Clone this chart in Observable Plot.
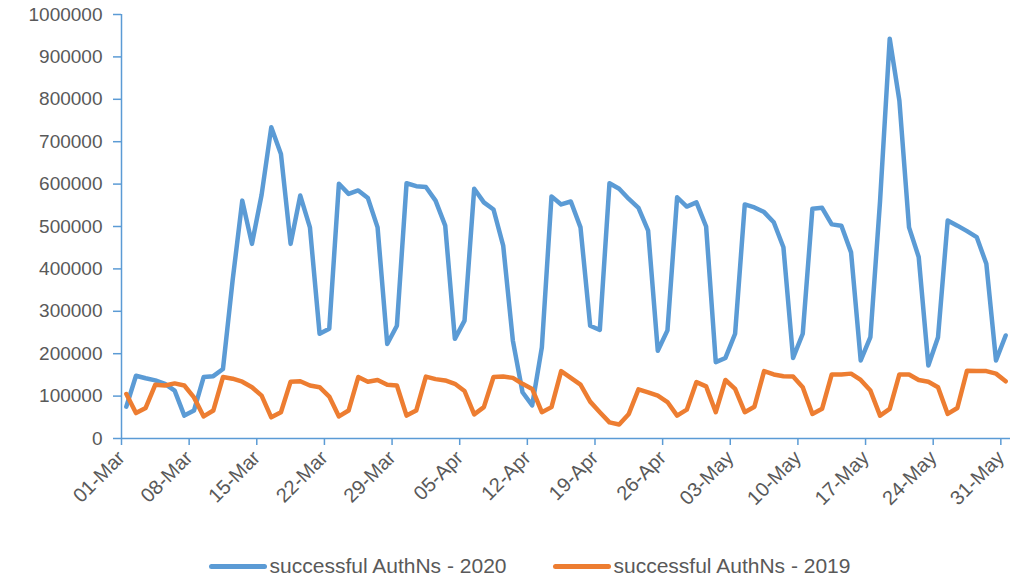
<!DOCTYPE html>
<html>
<head>
<meta charset="utf-8">
<script src="https://cdn.jsdelivr.net/npm/d3@7"></script>
<script src="https://cdn.jsdelivr.net/npm/@observablehq/plot@0.6"></script>
<style>
  html, body { margin: 0; padding: 0; background: #fff; }
  #wrap { width: 1019px; font-family: "Liberation Sans", Arial, sans-serif; }
  #legend { display: flex; justify-content: center; align-items: center; gap: 46px; margin-top: 22px; font-size: 21px; color: #595959; padding-left: 40px; }
  .item { display: flex; align-items: center; }
  .sw { width: 58px; height: 5px; border-radius: 3px; margin-right: 3px; }
</style>
</head>
<body>
<div id="wrap">
  <div id="chart"></div>
  <div id="legend"></div>
</div>
<script>
// Categories: one per day, 01-Mar to 31-May
const startDay = "2020-03-01";
const endDay = "2020-06-01";
const seriesNames = ["successful AuthNs - 2020", "successful AuthNs - 2019"];
const seriesColors = ["#5b9bd5", "#ed7d31"];
const tickLabels = ["01-Mar","08-Mar","15-Mar","22-Mar","29-Mar","05-Apr","12-Apr","19-Apr","26-Apr","03-May","10-May","17-May","24-May","31-May"];

const auth2020 = [
  75000, 148000, 142000, 137000, 129000, 113000, 54000, 66000, 145000, 147000,
  164000, 373000, 561000, 459000, 575000, 734000, 671000, 459000, 573000, 498000,
  247000, 259000, 601000, 577000, 585000, 567000, 498000, 223000, 266000, 602000,
  595000, 593000, 561000, 502000, 235000, 278000, 589000, 557000, 540000, 455000,
  231000, 109000, 78000, 215000, 571000, 552000, 559000, 498000, 266000, 256000,
  602000, 589000, 565000, 544000, 490000, 207000, 255000, 569000, 547000, 557000,
  500000, 180000, 190000, 247000, 552000, 545000, 534000, 510000, 451000, 190000,
  247000, 542000, 544000, 505000, 502000, 439000, 184000, 239000, 560000, 943000,
  797000, 498000, 428000, 172000, 239000, 514000, 502000, 489000, 475000, 412000,
  184000, 243000
];

const auth2019 = [
  105000, 60000, 72000, 127000, 125000, 130000, 125000, 97000, 52000, 66000,
  145000, 141000, 134000, 121000, 101000, 50000, 62000, 134000, 135000, 125000,
  121000, 99000, 52000, 66000, 145000, 134000, 138000, 127000, 125000, 54000,
  66000, 146000, 140000, 137000, 129000, 112000, 57000, 74000, 145000, 146000,
  143000, 129000, 117000, 62000, 74000, 159000, 143000, 127000, 87000, 62000,
  38000, 33000, 58000, 116000, 109000, 101000, 86000, 54000, 68000, 133000,
  123000, 62000, 138000, 117000, 62000, 75000, 159000, 151000, 147000, 146000,
  121000, 58000, 70000, 151000, 151000, 153000, 138000, 113000, 54000, 70000,
  151000, 151000, 138000, 134000, 121000, 58000, 72000, 160000, 159000, 159000,
  153000, 135000
];

const yTicks = [0, 100000, 200000, 300000, 400000, 500000, 600000, 700000, 800000, 900000, 1000000];

const d0 = new Date(startDay + "T00:00:00Z");
const d1 = new Date(endDay + "T00:00:00Z");
const days = d3.utcDays(d0, d1);
const mid = d => new Date(+d + 12 * 3600 * 1000);

const rows = [];
days.forEach((d, i) => {
  rows.push({date: mid(d), value: auth2020[i], series: seriesNames[0]});
});
days.forEach((d, i) => {
  rows.push({date: mid(d), value: auth2019[i], series: seriesNames[1]});
});

const xTicks = d3.utcSunday.range(d0, d1);
const fmtDay = d3.utcFormat("%d-%b");
const labelOf = d => tickLabels[xTicks.findIndex(t => +t === +d)] ?? fmtDay(d);

const axisBlue = "#5b9bd5";
const textGray = "#595959";

const chart = Plot.plot({
  width: 1019,
  height: 532,
  marginLeft: 121,
  marginRight: 9,
  marginTop: 14,
  marginBottom: 94,
  style: { fontFamily: "Liberation Sans, Arial, sans-serif", fontSize: "18px", background: "#fff" },
  x: { type: "utc", domain: [d0, d1] },
  y: { domain: [0, 1000000] },
  color: { domain: seriesNames, range: seriesColors },
  marks: [
    Plot.axisY({ ticks: yTicks, tickFormat: d3.format("d"), tickSize: 8, tickPadding: 11, stroke: axisBlue, strokeWidth: 1.5, strokeOpacity: 1, fill: textGray, fontSize: 19, label: null }),
    Plot.axisX({ ticks: xTicks, tickFormat: labelOf, tickSize: 7, tickPadding: 9, tickRotate: -45, stroke: axisBlue, strokeWidth: 1.5, strokeOpacity: 1, fill: textGray, fontSize: 20, label: null }),
    Plot.ruleX([d0], { stroke: axisBlue, strokeWidth: 1.5 }),
    Plot.ruleY([0], { stroke: axisBlue, strokeWidth: 1.5 }),
    Plot.line(rows, { x: "date", y: "value", z: "series", stroke: "series", strokeWidth: 4.5, strokeLinejoin: "round", strokeLinecap: "round" })
  ]
});
document.getElementById("chart").appendChild(chart);

const legend = document.getElementById("legend");
seriesNames.forEach((name, i) => {
  const item = document.createElement("div");
  item.className = "item";
  const sw = document.createElement("div");
  sw.className = "sw";
  sw.style.background = seriesColors[i];
  const label = document.createElement("span");
  label.textContent = name;
  item.appendChild(sw);
  item.appendChild(label);
  legend.appendChild(item);
});
</script>
</body>
</html>
